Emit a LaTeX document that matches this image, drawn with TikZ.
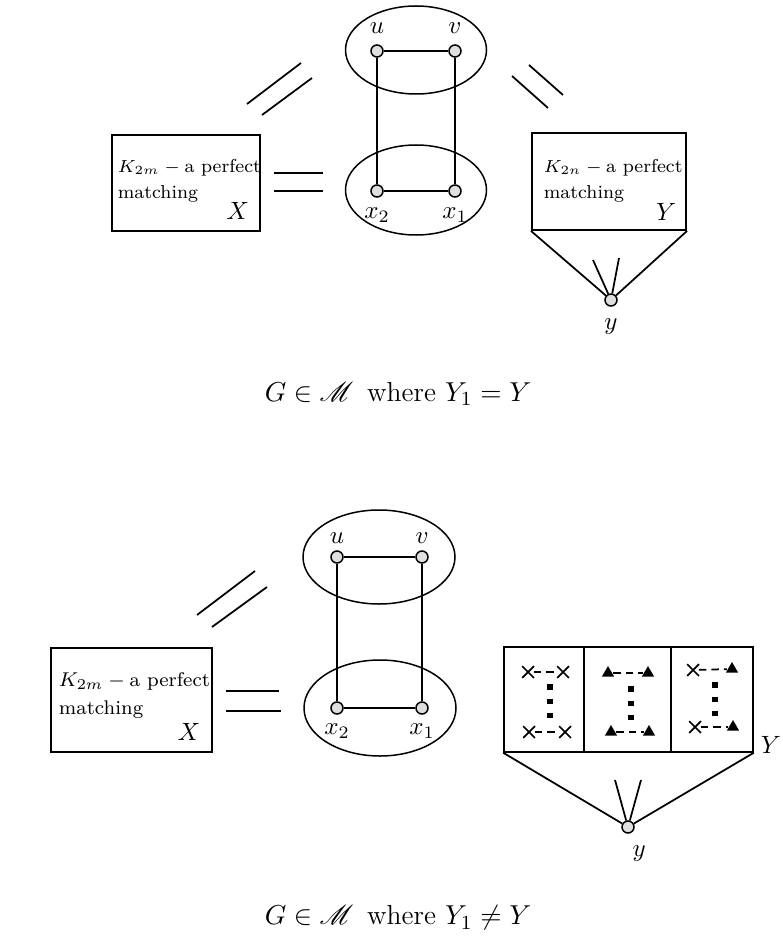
\documentclass[tikz,border=0pt]{standalone}
\usepackage{amsmath,amssymb}
\usepackage{mathrsfs}
\usetikzlibrary{shapes.geometric, shapes.misc}

\tikzset{
  vtx/.style={circle, draw, fill=gray!25, line width=0.6pt, minimum size=4.8pt, inner sep=0pt},
  blob/.style={ellipse, draw, line width=0.6pt, inner sep=0pt},
  partbox/.style={rectangle, draw, line width=0.7pt, inner sep=0pt},
  boxtext/.style={font=\fontsize{7.5}{10.6}\selectfont, align=left, anchor=north west, inner sep=0pt},
  xmark/.style={cross out, draw, line width=0.7pt, minimum size=4pt, inner sep=0pt},
  tmark/.style={regular polygon, regular polygon sides=3, fill, inner sep=0pt, minimum size=5.6pt},
  celldash/.style={line width=0.7pt, dash pattern=on 3pt off 2pt},
  celldots/.style={line width=2.2pt, dash pattern=on 2.2pt off 3.6pt},
  caption/.style={font=\fontsize{11}{13}\selectfont}
}

\begin{document}
\begin{tikzpicture}[x=0.4pt, y=-0.4pt, line width=0.7pt, label distance=0.5pt]
  \useasboundingbox (0,0) rectangle (782,945);

  % ===== TOP: Y_1 = Y =====
  \node[blob, minimum width=56.4pt, minimum height=35.2pt] (topUV) at (416,50) {};
  \node[blob, minimum width=56.4pt, minimum height=36pt] (topXX) at (416,190) {};

  \node[vtx, label=above:$u$] (u1) at (377,51) {};
  \node[vtx, label=above:$v$] (v1) at (455,51) {};
  \node[vtx, label=below:$x_2$] (xb1) at (377,191) {};
  \node[vtx, label=below:$x_1$] (xa1) at (455,191) {};
  \draw (u1) -- (v1);
  \draw (xb1) -- (xa1);
  \draw (u1) -- (xb1);
  \draw (v1) -- (xa1);

  % part X
  \node[partbox, minimum width=59.3pt, minimum height=38.4pt] (Xbox1) at (186,183) {};
  \node[boxtext] (Xtxt1) at (117,158) {$K_{2m} - {}$a perfect\\matching};
  \node[anchor=south east, inner sep=4.4pt] (Xlab1) at (Xbox1.south east) {$X$};

  % part Y
  \node[partbox, minimum width=61.7pt, minimum height=38.7pt] (Ybox1) at (609,181.7) {};
  \node[boxtext] (Ytxt1) at (543,158) {$K_{2n} - {}$a perfect\\matching};
  \node[anchor=south east, inner sep=4pt] (Ylab1) at (Ybox1.south east) {$Y$};

  % vertex y below Y
  \node[vtx, label={[label distance=1pt]below:$y$}] (y1) at (611,300) {};
  \draw (Ybox1.south west) -- (y1) -- (Ybox1.south east);
  \draw (y1) -- (593,260);
  \draw (y1) -- (619,258);

  % join marks
  \draw (247,104) -- (301,63);
  \draw (262,115) -- (312,78);
  \draw (529,65) -- (563,95);
  \draw (512,76) -- (548,108);
  \draw (274,173) -- (323,173);
  \draw (274,191) -- (323,191);

  \node[caption] (cap1) at (398,394) {$G \in \mathscr{M}$\ \,where $Y_1 = Y$};

  % ===== BOTTOM: Y_1 != Y =====
  \node[blob, minimum width=60.8pt, minimum height=37.6pt] (botUV) at (379,557) {};
  \node[blob, minimum width=60.8pt, minimum height=38.4pt] (botXX) at (380,708) {};

  \node[vtx, label={[label distance=-1pt]above:$u$}] (u2) at (337,557) {};
  \node[vtx, label={[label distance=-1pt]above:$v$}] (v2) at (422,557) {};
  \node[vtx, label={[label distance=0pt]below:$x_2$}] (xb2) at (337,708) {};
  \node[vtx, label={[label distance=0pt]below:$x_1$}] (xa2) at (422,708) {};
  \draw (u2) -- (v2);
  \draw (xb2) -- (xa2);
  \draw (u2) -- (xb2);
  \draw (v2) -- (xa2);

  % part X
  \node[partbox, minimum width=64.4pt, minimum height=41.5pt] (Xbox2) at (131.2,700.2) {};
  \node[boxtext, font=\fontsize{7.9}{11.2}\selectfont] (Xtxt2) at (58,672) {$K_{2m} - {}$a perfect\\matching};
  \node[anchor=south east, inner sep=4.6pt] (Xlab2) at (Xbox2.south east) {$X$};

  % part Y split in three cells
  \node[partbox, minimum width=99.6pt, minimum height=42pt] (Ybox2) at (628.5,699.3) {};
  \draw (584,646.7) -- (584,752);
  \draw (671,646.7) -- (671,752);
  \node (Ylab2) at (771,745) {$Y$};

  % cell 1
  \node[xmark] (c1a) at (528,672) {};
  \node[xmark] (c1b) at (563,672) {};
  \node[xmark] (c1c) at (529,732) {};
  \node[xmark] (c1d) at (565,732) {};
  \draw[celldash] (c1a) -- (c1b);
  \draw[celldash] (c1c) -- (c1d);
  \draw[celldots] (550,684) -- (550,718);

  % cell 2
  \node[tmark] (c2a) at (608,673) {};
  \node[tmark] (c2b) at (648,673) {};
  \node[tmark] (c2c) at (611,732) {};
  \node[tmark] (c2d) at (649,732) {};
  \draw[celldash] (c2a) -- (c2b);
  \draw[celldash] (c2c) -- (c2d);
  \draw[celldots] (631,686) -- (631,720);

  % cell 3
  \node[xmark] (c3a) at (693,670) {};
  \node[tmark] (c3b) at (732,669) {};
  \node[xmark] (c3c) at (695,727) {};
  \node[tmark] (c3d) at (733,727) {};
  \draw[celldash] (c3a) -- (c3b);
  \draw[celldash] (c3c) -- (c3d);
  \draw[celldots] (715,682) -- (715,716);

  % vertex y below Y
  \node[vtx, label={[label distance=1pt, xshift=4.5pt]below:$y$}] (y2) at (628,827) {};
  \draw (Ybox2.south west) -- (y2) -- (Ybox2.south east);
  \draw (y2) -- (615,780);
  \draw (y2) -- (641,780);

  % join marks
  \draw (197,615) -- (255,571);
  \draw (212,627) -- (267,587);
  \draw (226,691) -- (279,691);
  \draw (226,711) -- (281,711);

  \node[caption] (cap2) at (398,918) {$G \in \mathscr{M}$\ \,where $Y_1 \neq Y$};
\end{tikzpicture}
\end{document}
